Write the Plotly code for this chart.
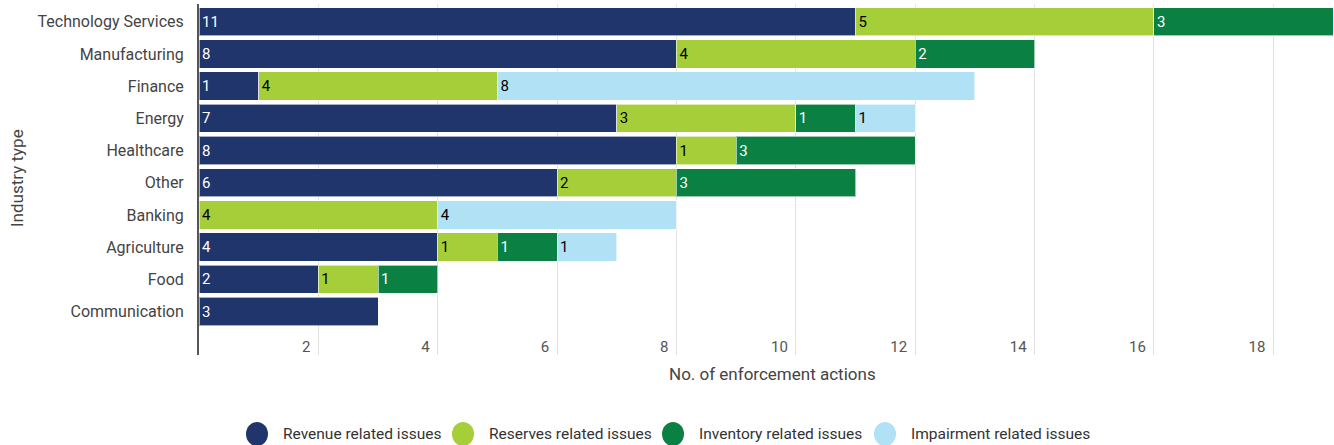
import plotly.graph_objects as go

categories = ["Technology Services", "Manufacturing", "Finance", "Energy", "Healthcare",
              "Other", "Banking", "Agriculture", "Food", "Communication"]
revenue = [11, 8, 1, 7, 8, 6, 0, 4, 2, 3]
reserves = [5, 4, 4, 3, 1, 2, 4, 1, 1, 0]
inventory = [3, 2, 0, 1, 3, 3, 0, 1, 1, 0]
impairment = [0, 0, 8, 1, 0, 0, 4, 1, 0, 0]

series = [
    ("Revenue related issues", revenue, "#1f356c", "white"),
    ("Reserves related issues", reserves, "#a6ce39", "black"),
    ("Inventory related issues", inventory, "#0a8043", "white"),
    ("Impairment related issues", impairment, "#b0e1f5", "black"),
]

# plot area in pixels
L, R, T, B = 199, 1, 4, 90
W, H = 1334, 445
pw, ph = W - L - R, H - T - B

def px_x(px):
    return (px - L) / pw

def px_y(py):
    return (H - B - py) / ph

fig = go.Figure()
for name, vals, color, tcolor in series:
    fig.add_trace(go.Bar(
        y=categories, x=[v if v else None for v in vals], orientation="h",
        name=name, marker=dict(color=color, line=dict(color="rgba(255,255,255,0.6)", width=1)),
        text=[str(v) if v else "" for v in vals], textposition="inside",
        insidetextanchor="start", textangle=0,
        textfont=dict(color=tcolor, size=15, family="Roboto"),
        showlegend=False, hoverinfo="skip"))

# manual legend (large circles)
legend_circle_x = [257, 463, 673, 885]
legend_y = 434
shapes = []
annotations = []
for (name, vals, color, tcolor), cx in zip(series, legend_circle_x):
    shapes.append(dict(type="circle", xref="paper", yref="paper",
                       xsizemode="pixel", ysizemode="pixel",
                       xanchor=px_x(cx), yanchor=px_y(legend_y),
                       x0=-11, x1=11, y0=-12, y1=12,
                       fillcolor=color, line=dict(width=0)))
    annotations.append(dict(text=name, xref="paper", yref="paper",
                            x=px_x(cx + 24), y=px_y(legend_y), xanchor="left", yanchor="middle",
                            showarrow=False, font=dict(size=15.5, color="#333")))

annotations.append(dict(text="No. of enforcement actions", xref="paper", yref="paper",
                        x=px_x(772), y=px_y(374), xanchor="center", yanchor="middle",
                        showarrow=False, font=dict(size=17, color="#444")))
annotations.append(dict(text="Industry type", xref="paper", yref="paper",
                        x=px_x(17), y=px_y(178), xanchor="center", yanchor="middle",
                        textangle=-90, showarrow=False, font=dict(size=17, color="#444")))

fig.update_layout(
    width=W, height=H, barmode="stack", bargap=0.12,
    plot_bgcolor="white", paper_bgcolor="white",
    margin=dict(l=L, r=R, t=T, b=B, autoexpand=False),
    font=dict(family="Roboto", color="#444"),
    uniformtext=dict(minsize=10, mode="show"),
    showlegend=False,
    shapes=shapes, annotations=annotations,
    xaxis=dict(range=[0, 19], dtick=2, tick0=2, showgrid=True, gridcolor="#e2e2e2",
               zeroline=False, ticklabelposition="inside left", ticks="",
               ticklabelshift=-8, ticklabelstandoff=-6, automargin=False,
               tickfont=dict(size=15, color="#555")),
    yaxis=dict(categoryorder="array", categoryarray=categories,
               range=[10.35, -0.55], showline=True, linecolor="#555", linewidth=2,
               ticks="", ticklabelstandoff=10, automargin=False,
               tickfont=dict(size=16, color="#444")),
)
fig.write_html("out.html", config={"displayModeBar": False},
               post_script="document.body.style.margin='0px';")
